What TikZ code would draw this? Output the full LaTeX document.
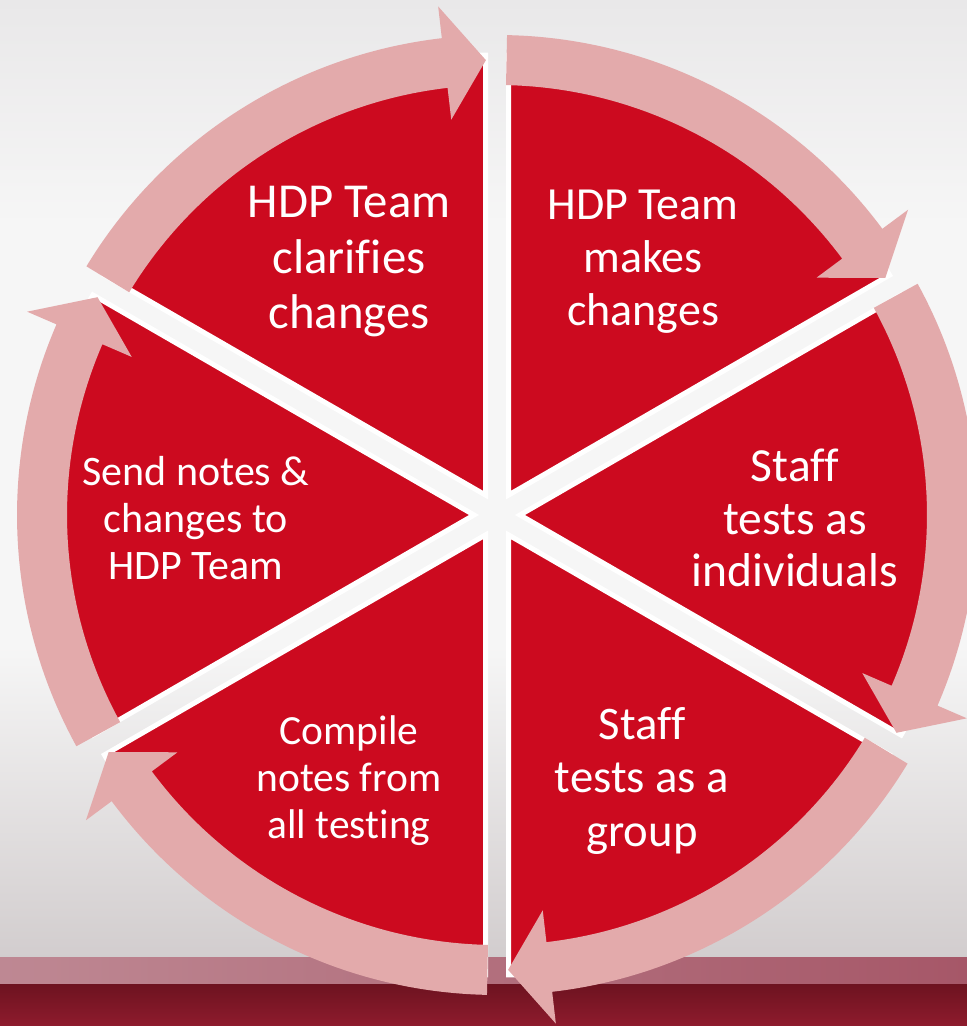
\documentclass[tikz,border=0pt]{standalone}
\usepackage{fontspec}
\setmainfont[Ligatures=NoCommon]{Carlito}
\begin{document}
\begin{tikzpicture}[x=1pt,y=1pt]
\definecolor{redfill}{HTML}{CC0A1F}
\definecolor{ringpink}{HTML}{E3AAAB}
\definecolor{bgtop}{HTML}{E9E8E9}
\definecolor{bgmid}{HTML}{F6F6F6}
\definecolor{bgbot}{HTML}{D2CDCE}
\definecolor{mauveL}{HTML}{BE8893}
\definecolor{mauveR}{HTML}{A65768}
\definecolor{dredT}{HTML}{6E1320}
\definecolor{dredB}{HTML}{8E1B2D}
\tikzset{
  sector/.style={fill=redfill, draw=white, line width=5pt, line join=miter},
  ringarrow/.style={fill=ringpink},
  lbl/.style={text=white, align=center, inner sep=0pt}
}
\useasboundingbox (0,0) rectangle (967,1026);
% background
\shade[top color=bgtop, middle color=bgmid, bottom color=bgbot] (0,68) rectangle (967,1026);
\fill[bgmid] (0,380) rectangle (967,800);
\shade[top color=bgtop, bottom color=bgmid] (0,800) rectangle (967,1026);
\shade[top color=bgmid, bottom color=bgbot] (0,68) rectangle (967,380);
\shade[left color=mauveL, right color=mauveR] (0,41) rectangle (967,68);
\shade[top color=dredT, bottom color=dredB] (0,0) rectangle (967,41);
\coordinate (C) at (497,511);
\begin{scope}[shift={(C)}]
  % exploded sectors
  \foreach \b in {60,0,-60,-120,180,120}{
    \pgfmathsetmacro\sa{\b+30}
    \pgfmathsetmacro\sb{\b-30}
    \path[sector] (\b:23) -- ++(\sa:440) arc[start angle=\sa, end angle=\sb, radius=440] -- cycle;
  }
  % ring arrows (clockwise)
  \foreach \a/\t in {148.8/91.4, 88.8/31.4, 28.8/-28.6, -31.2/-88.6, -91.2/-148.6, -151.2/-208.6}{
    \pgfmathsetmacro\bb{\t+5.2}
    \fill[ringarrow] (\a:480) arc[start angle=\a, end angle=\bb, radius=480]
      -- (\bb:512) -- (\t:455) -- (\bb:398) -- (\bb:430)
      arc[start angle=\bb, end angle=\a, radius=430] -- cycle;
  }
\end{scope}
% labels
\node[lbl, font=\fontsize{48.8}{55.5}\selectfont] (t1) at (349,764) {HDP Team\\clarifies\\changes};
\node[lbl, font=\fontsize{46}{53}\selectfont] (t2) at (643,764) {HDP Team\\makes\\changes};
\node[lbl, font=\fontsize{47.5}{52.5}\selectfont] (t3) at (795,508) {Staff\\tests as\\individuals};
\node[lbl, font=\fontsize{46.7}{53.5}\selectfont] (t4) at (642,245) {Staff\\tests as a\\group};
\node[lbl, font=\fontsize{41.5}{47}\selectfont] (t5) at (349,245) {Compile\\notes from\\all testing};
\node[lbl, font=\fontsize{42}{47}\selectfont] (t6) at (196,508) {Send notes \&\\changes to\\HDP Team};
\end{tikzpicture}
\end{document}
